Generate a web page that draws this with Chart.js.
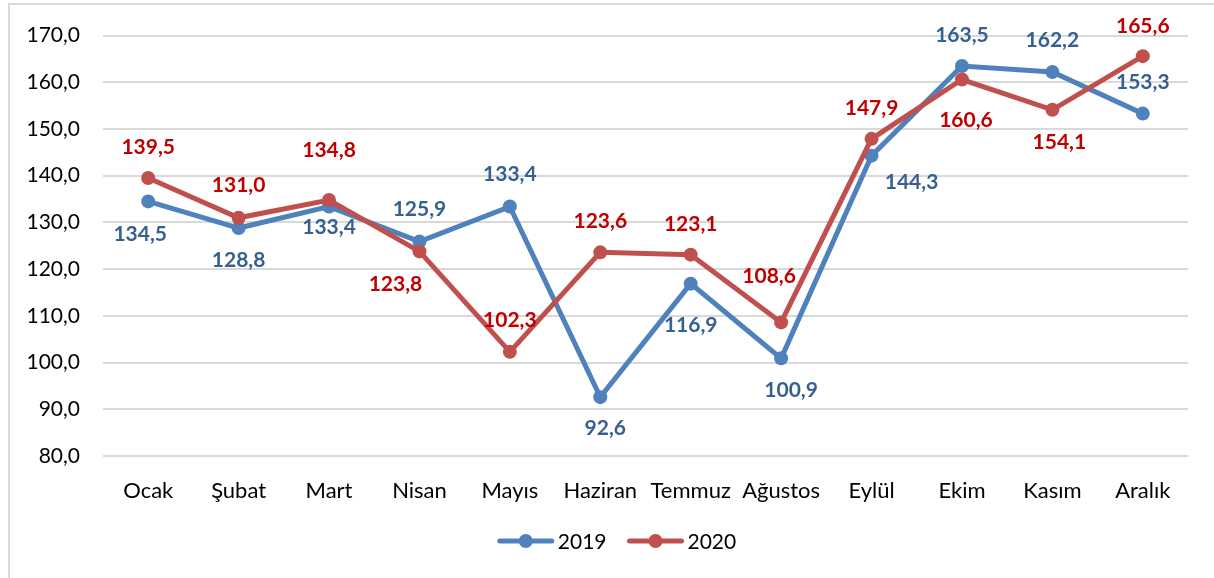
<!DOCTYPE html>
<html>
<head>
<meta charset="utf-8">
<script src="https://cdn.jsdelivr.net/npm/chart.js@4/dist/chart.umd.min.js"></script>
<style>
  html, body { margin: 0; padding: 0; background: #fff; }
  #wrap { position: relative; width: 1214px; height: 578px; overflow: hidden; }
  #frame { position: absolute; left: 8px; top: 3px; width: 1300px; height: 700px;
           border-left: 2px solid #d9d9d9; border-top: 2px solid #d9d9d9; }
  canvas { position: absolute; left: 0; top: 0; }
</style>
</head>
<body>
<div id="wrap">
  <div id="frame"></div>
  <canvas id="chart" width="1214" height="578"></canvas>
</div>
<script>
// data
const months = ["Ocak", "Şubat", "Mart", "Nisan", "Mayıs", "Haziran", "Temmuz", "Ağustos", "Eylül", "Ekim", "Kasım", "Aralık"];
const values2019 = [134.5, 128.8, 133.4, 125.9, 133.4, 92.6, 116.9, 100.9, 144.3, 163.5, 162.2, 153.3];
const values2020 = [139.5, 131.0, 134.8, 123.8, 102.3, 123.6, 123.1, 108.6, 147.9, 160.6, 154.1, 165.6];

// where each value label sits, relative to its point [dx, dy]
const labelPos2019 = [[-8, 33], [0, 32], [0, 21], [0, -32], [0, -32], [5, 31], [0, 42], [10, 32], [40, 27], [0, -31], [0, -32], [0, -31]];
const labelPos2020 = [[0, -31], [0, -33], [0, -50], [-24, 33], [0, -32], [0, -31], [0, -30], [-12, -46], [0, -31], [4, 41], [7, 32], [0, -30]];

const blue = "#4f81bd";
const red = "#c0504d";
const fontFamily = "Lato, 'Open Sans', sans-serif";

function fmt(v) {
  return v.toFixed(1).replace(".", ",");
}

// value labels
const valueLabels = {
  id: "valueLabels",
  afterDatasetsDraw(chart) {
    const ctx = chart.ctx;
    ctx.save();
    ctx.font = "bold 21px " + fontFamily;
    ctx.textAlign = "center";
    ctx.textBaseline = "middle";
    chart.data.datasets.forEach((ds, i) => {
      const meta = chart.getDatasetMeta(i);
      meta.data.forEach((pt, j) => {
        const off = ds.labelPos[j];
        ctx.fillStyle = ds.labelColor;
        ctx.fillText(fmt(ds.data[j]), pt.x + off[0], pt.y + off[1]);
      });
    });
    ctx.restore();
  }
};

// legend drawn by hand: line with a dot, then the year
const lineLegend = {
  id: "lineLegend",
  afterDraw(chart) {
    const ctx = chart.ctx;
    const cx = 617, cy = 541;
    const iconW = 56, gap = 4, itemGap = 21;
    ctx.save();
    ctx.font = "21px " + fontFamily;
    ctx.textBaseline = "middle";
    const sets = [...chart.data.datasets].sort((a, b) => a.legendOrder - b.legendOrder);
    let total = 0;
    sets.forEach((ds, i) => {
      total += iconW + gap + ctx.measureText(ds.label).width + (i ? itemGap : 0);
    });
    let x = cx - total / 2;
    sets.forEach((ds) => {
      ctx.strokeStyle = ds.borderColor;
      ctx.lineWidth = 5;
      ctx.lineCap = "round";
      ctx.beginPath();
      ctx.moveTo(x + 2, cy);
      ctx.lineTo(x + iconW - 2, cy);
      ctx.stroke();
      ctx.fillStyle = ds.borderColor;
      ctx.beginPath();
      ctx.arc(x + iconW / 2, cy, 7, 0, Math.PI * 2);
      ctx.fill();
      x += iconW + gap;
      ctx.fillStyle = "#000";
      ctx.fillText(ds.label, x, cy + 1);
      x += ctx.measureText(ds.label).width + itemGap;
    });
    ctx.restore();
  }
};

let chart = new Chart(document.getElementById("chart"), {
  type: "line",
  data: {
    labels: months,
    datasets: [
      {
        label: "2019",
        data: values2019,
        borderColor: blue,
        backgroundColor: blue,
        borderWidth: 5,
        pointRadius: 7,
        pointBorderWidth: 0,
        pointBackgroundColor: blue,
        labelColor: "#376092",
        labelPos: labelPos2019,
        legendOrder: 0,
        order: 1
      },
      {
        label: "2020",
        data: values2020,
        borderColor: red,
        backgroundColor: red,
        borderWidth: 5,
        pointRadius: 7,
        pointBorderWidth: 0,
        pointBackgroundColor: red,
        labelColor: "#c00000",
        labelPos: labelPos2020,
        legendOrder: 1,
        order: 0
      }
    ]
  },
  options: {
    responsive: false,
    animation: false,
    layout: { padding: { left: 0, top: 32, right: 26, bottom: 58 } },
    scales: {
      x: {
        offset: true,
        grid: { display: false },
        border: { display: false },
        ticks: { color: "#000", font: { family: fontFamily, size: 22 }, padding: 14, maxRotation: 0 },
        afterFit(scale) { scale.height = 64; }
      },
      y: {
        min: 80,
        max: 170,
        grid: { color: "#d9d9d9", lineWidth: 2, drawTicks: false },
        border: { display: false },
        ticks: {
          stepSize: 10,
          color: "#000",
          padding: 23,
          font: { family: fontFamily, size: 21 },
          callback: (v) => fmt(v)
        },
        afterFit(scale) { scale.width = 103; }
      }
    },
    plugins: {
      tooltip: { enabled: false },
      legend: { display: false }
    }
  },
  plugins: [valueLabels, lineLegend]
});
</script>
</body>
</html>
